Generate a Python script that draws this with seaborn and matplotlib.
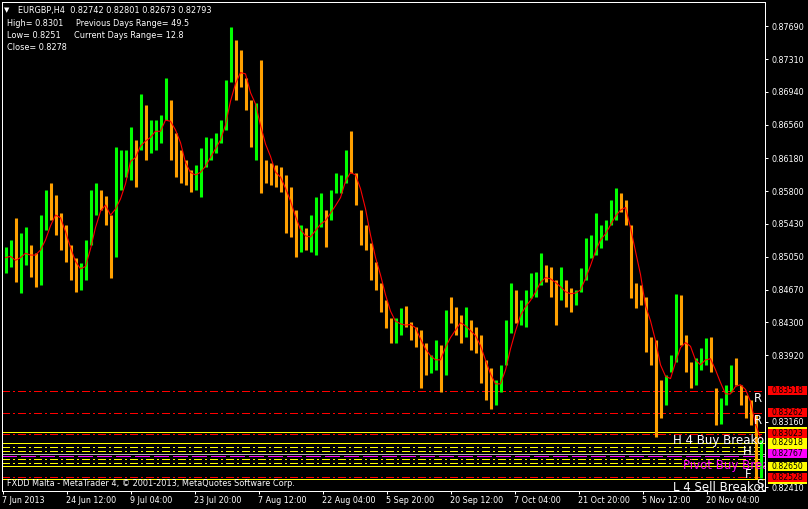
import numpy as np
import pandas as pd
import matplotlib
matplotlib.use('Agg')
import matplotlib.pyplot as plt
import matplotlib.transforms as mtransforms
from matplotlib.patches import Rectangle
import seaborn as sns

# EURGBP H4, each entry groups 5 H4 bars (high / low / close)
highs = [
    0.8516, 0.8524, 0.8549, 0.8532, 0.8539, 0.8518, 0.8509, 0.8553, 0.8581, 0.8590,
    0.8576, 0.8555, 0.8541, 0.8518, 0.8504, 0.8498, 0.8524, 0.8581, 0.8590, 0.8581,
    0.8575, 0.8553, 0.8631, 0.8627, 0.8627, 0.8654, 0.8639, 0.8691, 0.8679, 0.8662,
    0.8662, 0.8667, 0.8710, 0.8685, 0.8647, 0.8627, 0.8616, 0.8604, 0.8610, 0.8630,
    0.8642, 0.8641, 0.8647, 0.8662, 0.8707, 0.8768, 0.8753, 0.8742, 0.8710, 0.8685,
    0.8681, 0.8730, 0.8616, 0.8612, 0.8610, 0.8608, 0.8599, 0.8585, 0.8559, 0.8541,
    0.8538, 0.8553, 0.8573, 0.8578, 0.8559, 0.8581, 0.8601, 0.8599, 0.8627, 0.8649,
    0.8601, 0.8559, 0.8541, 0.8521, 0.8499, 0.8475, 0.8456, 0.8435, 0.8435, 0.8446,
    0.8449, 0.8430, 0.8425, 0.8421, 0.8406, 0.8393, 0.8410, 0.8404, 0.8444, 0.8459,
    0.8447, 0.8438, 0.8447, 0.8433, 0.8425, 0.8415, 0.8387, 0.8378, 0.8364, 0.8381,
    0.8433, 0.8475, 0.8467, 0.8456, 0.8467, 0.8486, 0.8488, 0.8509, 0.8496, 0.8493,
    0.8478, 0.8493, 0.8478, 0.8469, 0.8467, 0.8492, 0.8527, 0.8530, 0.8555, 0.8541,
    0.8547, 0.8570, 0.8584, 0.8578, 0.8570, 0.8541, 0.8475, 0.8473, 0.8459, 0.8413,
    0.8410, 0.8364, 0.8370, 0.8393, 0.8462, 0.8461, 0.8415, 0.8385, 0.8389, 0.8401,
    0.8412, 0.8413, 0.8355, 0.8343, 0.8358, 0.8381, 0.8389, 0.8358, 0.8347, 0.8341,
    0.8324, 0.8295,
]
lows = [
    0.8486, 0.8493, 0.8476, 0.8464, 0.8496, 0.8482, 0.8470, 0.8473, 0.8536, 0.8547,
    0.8530, 0.8513, 0.8499, 0.8478, 0.8465, 0.8467, 0.8478, 0.8518, 0.8553, 0.8559,
    0.8541, 0.8481, 0.8505, 0.8581, 0.8596, 0.8593, 0.8585, 0.8627, 0.8616, 0.8624,
    0.8627, 0.8635, 0.8662, 0.8616, 0.8596, 0.8590, 0.8587, 0.8579, 0.8581, 0.8573,
    0.8608, 0.8616, 0.8624, 0.8635, 0.8650, 0.8705, 0.8685, 0.8699, 0.8673, 0.8631,
    0.8616, 0.8578, 0.8590, 0.8587, 0.8585, 0.8579, 0.8532, 0.8528, 0.8505, 0.8510,
    0.8513, 0.8510, 0.8507, 0.8539, 0.8516, 0.8547, 0.8578, 0.8578, 0.8590, 0.8601,
    0.8564, 0.8518, 0.8513, 0.8478, 0.8467, 0.8442, 0.8423, 0.8406, 0.8406, 0.8415,
    0.8425, 0.8410, 0.8402, 0.8355, 0.8370, 0.8372, 0.8375, 0.8350, 0.8370, 0.8429,
    0.8415, 0.8406, 0.8413, 0.8398, 0.8395, 0.8360, 0.8341, 0.8331, 0.8335, 0.8350,
    0.8381, 0.8418, 0.8429, 0.8427, 0.8425, 0.8458, 0.8459, 0.8473, 0.8476, 0.8459,
    0.8427, 0.8456, 0.8447, 0.8442, 0.8450, 0.8465, 0.8478, 0.8504, 0.8507, 0.8515,
    0.8524, 0.8541, 0.8547, 0.8556, 0.8541, 0.8458, 0.8446, 0.8450, 0.8396, 0.8381,
    0.8299, 0.8320, 0.8335, 0.8373, 0.8385, 0.8404, 0.8373, 0.8355, 0.8358, 0.8375,
    0.8381, 0.8373, 0.8312, 0.8313, 0.8335, 0.8350, 0.8358, 0.8335, 0.8320, 0.8312,
    0.8251, 0.8252,
]
closes = [
    0.8504, 0.8507, 0.8492, 0.8513, 0.8524, 0.8499, 0.8492, 0.8536, 0.8570, 0.8564,
    0.8541, 0.8524, 0.8507, 0.8490, 0.8478, 0.8490, 0.8518, 0.8570, 0.8576, 0.8564,
    0.8547, 0.8524, 0.8604, 0.8610, 0.8616, 0.8627, 0.8622, 0.8662, 0.8639, 0.8644,
    0.8650, 0.8662, 0.8690, 0.8639, 0.8610, 0.8604, 0.8599, 0.8593, 0.8599, 0.8616,
    0.8627, 0.8633, 0.8639, 0.8656, 0.8696, 0.8742, 0.8719, 0.8707, 0.8690, 0.8656,
    0.8667, 0.8610, 0.8604, 0.8599, 0.8595, 0.8587, 0.8553, 0.8541, 0.8524, 0.8527,
    0.8524, 0.8536, 0.8553, 0.8556, 0.8541, 0.8570, 0.8587, 0.8593, 0.8616, 0.8610,
    0.8576, 0.8530, 0.8524, 0.8490, 0.8473, 0.8450, 0.8433, 0.8415, 0.8427, 0.8438,
    0.8427, 0.8418, 0.8412, 0.8387, 0.8381, 0.8387, 0.8393, 0.8387, 0.8438, 0.8432,
    0.8427, 0.8421, 0.8424, 0.8410, 0.8404, 0.8375, 0.8358, 0.8347, 0.8358, 0.8375,
    0.8421, 0.8444, 0.8440, 0.8446, 0.8461, 0.8473, 0.8478, 0.8490, 0.8484, 0.8467,
    0.8462, 0.8470, 0.8461, 0.8458, 0.8465, 0.8484, 0.8513, 0.8518, 0.8530, 0.8536,
    0.8541, 0.8559, 0.8570, 0.8564, 0.8553, 0.8467, 0.8461, 0.8458, 0.8410, 0.8398,
    0.8370, 0.8347, 0.8358, 0.8387, 0.8444, 0.8415, 0.8381, 0.8370, 0.8381, 0.8393,
    0.8404, 0.8375, 0.8330, 0.8335, 0.8352, 0.8375, 0.8364, 0.8343, 0.8330, 0.8320,
    0.8261, 0.8279,
]

date_labels = ['7 Jun 2013', '24 Jun 12:00', '9 Jul 04:00', '23 Jul 20:00', '7 Aug 12:00',
               '22 Aug 04:00', '5 Sep 20:00', '20 Sep 12:00', '7 Oct 04:00', '21 Oct 20:00',
               '5 Nov 12:00', '20 Nov 04:00']
price_ticks = [0.8769, 0.8731, 0.8694, 0.8656, 0.8618, 0.8580, 0.8543, 0.8505,
               0.8467, 0.8430, 0.8392, 0.8316, 0.8241]

# levels drawn by the indicators
red_levels = [0.83518, 0.83262, 0.83023, 0.82528]
yellow_solid = [0.83047, 0.82918, 0.82650, 0.82502]
yellow_dashdot = [0.82868, 0.82826, 0.82731, 0.82688]
pivot_level = 0.82767
bid = 0.82793

sns.set_theme(style='dark', rc={'axes.facecolor': 'black', 'figure.facecolor': 'black',
                                'axes.edgecolor': 'white', 'axes.grid': False})
plt.rcParams['font.family'] = ['DejaVu Sans']

W, H = 808, 509
fig = plt.figure(figsize=(W / 100, H / 100), dpi=100)
ax = fig.add_axes([2 / W, 18 / H, 763 / W, 489 / H])
ax.set_facecolor('black')

df = pd.DataFrame({'high': highs, 'low': lows, 'close': closes})
df['open'] = df['close'].shift(1).fillna(df['close'][0])
df['bar'] = np.arange(len(df)) * 5 + 2.5
df['ma'] = df['close'].rolling(4, min_periods=1).mean()
up = df['close'] >= df['open']

dashdot = (0, (8, 3, 2, 3))
hl = dict(lw=0.72, zorder=1, antialiased=False)
for lv in red_levels:
    ax.axhline(lv, color='#ff0000', ls=dashdot, **hl)
for lv in yellow_solid:
    ax.axhline(lv, color='#ffff00', **hl)
for lv in yellow_dashdot:
    ax.axhline(lv, color='#ffff00', ls=dashdot, **hl)
ax.axhline(bid, color='#b0b0b0', **hl)
ax.axhline(pivot_level, color='#ff00ff', ls=(0, (14, 5)), **hl)

ax.vlines(df['bar'][up], df['low'][up], df['high'][up], colors='#00ff00', lw=2.2, zorder=2)
ax.vlines(df['bar'][~up], df['low'][~up], df['high'][~up], colors='#ffa000', lw=2.2, zorder=2)
sns.lineplot(data=df, x='bar', y='ma', color='#ff0000', lw=0.8, ax=ax, legend=False, zorder=3)

ax.set_xlim(-1, 762)
ax.set_ylim(0.82368, 0.87968)
ax.set_xlabel('')
ax.set_ylabel('')

# chart object labels
big = dict(color='white', fontsize=8.5, va='center', clip_on=True, zorder=4)
ax.text(751, 0.83433, 'R', **big)
ax.text(751, 0.83181, 'R', **big)
ax.text(670, 0.82952, 'H 4 Buy Breakout', **big)
ax.text(740, 0.82826, 'H', **big)
ax.text(680, 0.82665, 'Pivot Buy Breakout', color='#ff00ff', fontsize=8.5, va='center',
        clip_on=True, zorder=4)
ax.text(742, 0.82555, 'F', **big)
ax.text(670, 0.82413, 'L 4 Sell Breakout', **big)
ax.text(753, 0.82445, 'S', **big)

for sp in ax.spines.values():
    sp.set_color('white')
    sp.set_linewidth(0.72)

ax.yaxis.tick_right()
ax.set_yticks(price_ticks, labels=[f'{v:.5f}' for v in price_ticks])
ax.set_xticks(np.arange(len(date_labels)) * 64, labels=date_labels)
ax.tick_params(axis='both', colors='white', length=2.2, width=0.72, labelsize=5.8,
               direction='out', bottom=True, right=True, left=False)
ax.tick_params(axis='y', pad=2.2)
ax.tick_params(axis='x', pad=1.2)
shift = mtransforms.ScaledTranslation(-1.5 / 100, 0, fig.dpi_scale_trans)
for lbl in ax.get_xticklabels():
    lbl.set_horizontalalignment('left')
    lbl.set_transform(lbl.get_transform() + shift)

# coloured price boxes on the right scale (some are mostly hidden behind others)
box_tr = mtransforms.blended_transform_factory(fig.transFigure, ax.transData)
boxes = [(0.83047, None, '#ffff00'), (0.82502, None, '#ffff00'),
         (0.82868, None, '#ffff00'), (0.82918, '0.82918', '#ffff00'),
         (0.82650, '0.82650', '#ffff00'), (bid, '0.82767', '#ff00ff'),
         (0.83518, '0.83518', '#ff0000'), (0.83262, '0.83262', '#ff0000'),
         (0.83023, '0.83023', '#ff0000'), (0.82528, '0.82528', '#ff0000')]
hb = 9 / 8731
for i, (lv, txt, col) in enumerate(boxes):
    r = Rectangle((768 / W, lv - hb / 2), 39 / W, hb, transform=box_tr, facecolor=col,
                  edgecolor='none', clip_on=False, zorder=10 + 2 * i)
    fig.add_artist(r)
    if txt:
        fig.text(771 / W, lv, txt, transform=box_tr, color='black', fontsize=5.6,
                 va='center', ha='left', zorder=11 + 2 * i)

# header and footer text
def fpos(x, y):
    return x / W, 1 - y / H

small = dict(color='white', fontsize=5.9, va='center', ha='left')
fig.text(*fpos(4, 10.5), '\u25bc', color='white', fontsize=5, va='center', ha='left')
fig.text(*fpos(18, 11), 'EURGBP,H4  0.82742 0.82801 0.82673 0.82793', **small)
fig.text(*fpos(7, 24), 'High= 0.8301', **small)
fig.text(*fpos(76, 24), 'Previous Days Range= 49.5', **small)
fig.text(*fpos(7, 36), 'Low= 0.8251', **small)
fig.text(*fpos(74, 36), 'Current Days Range= 12.8', **small)
fig.text(*fpos(7, 48), 'Close= 0.8278', **small)
fig.text(*fpos(7, 484), 'FXDD Malta - MetaTrader 4, \u00a9 2001-2013, MetaQuotes Software Corp.',
         **small)

fig.savefig('out.png', dpi=100, facecolor='black')
